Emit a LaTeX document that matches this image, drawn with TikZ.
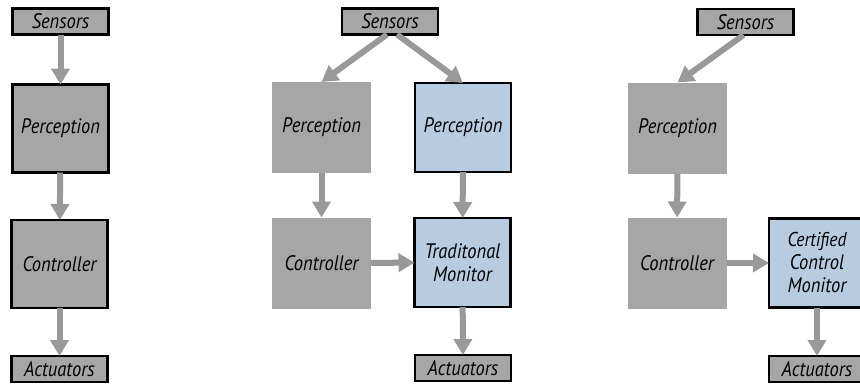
\documentclass[tikz,border=0pt]{standalone}
\usepackage{fontspec}
\setmainfont{PT Sans}[FakeStretch=0.88]
\usetikzlibrary{arrows.meta}
\definecolor{boxgrey}{HTML}{A6A6A6}
\definecolor{arrgrey}{HTML}{999999}
\definecolor{monblue}{HTML}{B7CCE0}
\tikzset{
  base/.style={inner sep=0pt, outer sep=0pt, align=center, font=\fontsize{21}{23}\selectfont\itshape, text=black},
  bigbox/.style={base, fill=boxgrey, draw=black, line width=2.6pt, minimum width=96pt, minimum height=88pt},
  plainbox/.style={base, fill=boxgrey, minimum width=99pt, minimum height=91pt},
  bluebox/.style={base, fill=monblue, draw=black, line width=2.6pt, minimum width=96pt, minimum height=89pt},
  smallbox/.style={base, fill=boxgrey, draw=black, line width=2.6pt, minimum width=96pt, minimum height=26pt},
  flow/.style={draw=arrgrey, line width=6pt, -{Triangle[width=18pt,length=16pt]}, arrgrey}
}
\begin{document}
\begin{tikzpicture}[x=1pt,y=-1pt]
\useasboundingbox (0,0) rectangle (860,386);
% left column
\node[smallbox] (S1) at (60.5,21.5) {Sensors};
\node[bigbox] (P1) at (60.5,128.5) {Perception};
\node[bigbox] (C1) at (59.5,264) {Controller};
\node[smallbox] (A1) at (59.5,369) {Actuators};
\draw[flow] (S1) -- (P1);
\draw[flow] (P1) -- (C1);
\draw[flow] (C1) -- (A1);
% middle column
\node[smallbox] (S2) at (390,21.5) {Sensors};
\node[plainbox] (P2a) at (321.5,127.5) {Perception};
\node[bluebox] (P2b) at (463,127.5) {Perception};
\node[plainbox] (C2) at (321.5,263) {Controller};
\node[bluebox] (M2) at (462.5,262.5) {\fontsize{21}{27}\selectfont Traditonal\\Monitor};
\node[smallbox] (A2) at (463,368) {Actuators};
\draw[flow] ([xshift=-3pt]S2.south) -- (P2a.north);
\draw[flow] ([xshift=7pt]S2.south) -- (P2b.north);
\draw[flow] (P2a) -- (C2);
\draw[flow] (P2b) -- (M2);
\draw[flow] (C2) -- (M2);
\draw[flow] (M2) -- (A2);
% right column
\node[smallbox] (S3) at (745.5,22) {Sensors};
\node[plainbox] (P3) at (677.5,128) {Perception};
\node[plainbox] (C3) at (677,263) {Controller};
\node[bluebox] (M3) at (817,263) {\fontsize{20}{20.5}\selectfont Certified\\Control\\Monitor};
\node[smallbox] (A3) at (817,369) {Actuators};
\draw[flow] ([xshift=-2pt]S3.south) -- (P3.north);
\draw[flow] (P3) -- (C3);
\draw[flow] (C3) -- (M3);
\draw[flow] (M3) -- (A3);
\end{tikzpicture}
\end{document}
